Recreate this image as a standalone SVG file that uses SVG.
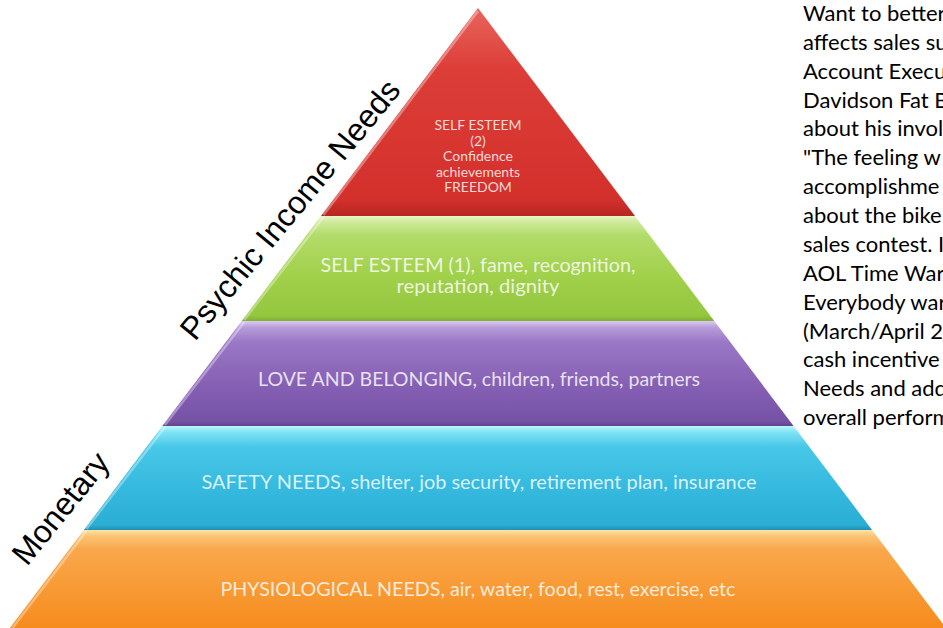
<svg xmlns="http://www.w3.org/2000/svg" width="943" height="628" viewBox="0 0 943 628">
  <defs>
    <linearGradient id="g-red" x1="0" y1="0" x2="0" y2="1">
      <stop offset="0" stop-color="#e8645c"/>
      <stop offset="0.3" stop-color="#dc3d37"/>
      <stop offset="0.92" stop-color="#d3302c"/>
      <stop offset="1" stop-color="#b82622"/>
    </linearGradient>
    <linearGradient id="g-green" x1="0" y1="0" x2="0" y2="1">
      <stop offset="0" stop-color="#e6f6c4"/>
      <stop offset="0.06" stop-color="#cfe99a"/>
      <stop offset="0.18" stop-color="#b2dc6a"/>
      <stop offset="0.55" stop-color="#a2d14c"/>
      <stop offset="0.95" stop-color="#94c63e"/>
      <stop offset="1" stop-color="#7fae33"/>
    </linearGradient>
    <linearGradient id="g-purple" x1="0" y1="0" x2="0" y2="1">
      <stop offset="0" stop-color="#dccaf2"/>
      <stop offset="0.06" stop-color="#b79ddb"/>
      <stop offset="0.2" stop-color="#9a78c6"/>
      <stop offset="0.6" stop-color="#8660b4"/>
      <stop offset="0.95" stop-color="#7652a6"/>
      <stop offset="1" stop-color="#664491"/>
    </linearGradient>
    <linearGradient id="g-blue" x1="0" y1="0" x2="0" y2="1">
      <stop offset="0" stop-color="#b8f7fd"/>
      <stop offset="0.06" stop-color="#7fe2f5"/>
      <stop offset="0.2" stop-color="#48c8e8"/>
      <stop offset="0.6" stop-color="#35b9de"/>
      <stop offset="0.95" stop-color="#2aaed4"/>
      <stop offset="1" stop-color="#2190b4"/>
    </linearGradient>
    <linearGradient id="g-orange" x1="0" y1="0" x2="0" y2="1">
      <stop offset="0" stop-color="#fde5a6"/>
      <stop offset="0.06" stop-color="#fbc475"/>
      <stop offset="0.2" stop-color="#f9a74c"/>
      <stop offset="0.6" stop-color="#f89a34"/>
      <stop offset="1" stop-color="#f68b1f"/>
    </linearGradient>
  </defs>
  <style>
    .lvl-text { font-family: Lato, "Liberation Sans", sans-serif; fill: #ffffff; fill-opacity: 0.82; text-anchor: middle; }
    .lvl-big { font-size: 19.5px; }
    .lvl-small { font-size: 14px; }
    .bevel { stroke: #ffffff; stroke-opacity: 0.35; stroke-width: 2.5; fill: none; }
    .side-label { font-family: "Liberation Sans", Arial, sans-serif; font-size: 32px; fill: #000000; }
    .note { font-family: Lato, "Liberation Sans", sans-serif; font-size: 22px; fill: #000000; }
  </style>

  <rect x="0" y="0" width="943" height="628" fill="#ffffff"/>

  <!-- pyramid levels, top to bottom; a soft light bevel runs down each left slope -->
  <g id="level-self-esteem-2">
    <polygon points="478,8 635,216 321,216" fill="url(#g-red)"/>
    <line class="bevel" x1="478" y1="11" x2="323.5" y2="215"/>
    <text class="lvl-text lvl-small" x="478" y="130">SELF ESTEEM</text>
    <text class="lvl-text lvl-small" x="478" y="145.5">(2)</text>
    <text class="lvl-text lvl-small" x="478" y="161">Confidence</text>
    <text class="lvl-text lvl-small" x="478" y="176.5">achievements</text>
    <text class="lvl-text lvl-small" x="478" y="192">FREEDOM</text>
  </g>

  <g id="level-self-esteem-1">
    <polygon points="321,216 635,216 714.3,321 241.7,321" fill="url(#g-green)"/>
    <line class="bevel" x1="323.5" y1="217" x2="244.2" y2="320"/>
    <text class="lvl-text lvl-big" x="478" y="272" textLength="315" lengthAdjust="spacingAndGlyphs">SELF ESTEEM (1), fame, recognition,</text>
    <text class="lvl-text lvl-big" x="478" y="293" textLength="163" lengthAdjust="spacingAndGlyphs">reputation, dignity</text>
  </g>

  <g id="level-love-belonging">
    <polygon points="241.7,321 714.3,321 793.6,426 162.4,426" fill="url(#g-purple)"/>
    <line class="bevel" x1="244.2" y1="322" x2="164.9" y2="425"/>
    <text class="lvl-text lvl-big" x="479" y="386" textLength="442" lengthAdjust="spacingAndGlyphs">LOVE AND BELONGING, children, friends, partners</text>
  </g>

  <g id="level-safety">
    <polygon points="162.4,426 793.6,426 872.1,530 83.9,530" fill="url(#g-blue)"/>
    <line class="bevel" x1="164.9" y1="427" x2="86.4" y2="529"/>
    <text class="lvl-text lvl-big" x="479" y="489" textLength="555" lengthAdjust="spacingAndGlyphs">SAFETY NEEDS, shelter, job security, retirement plan, insurance</text>
  </g>

  <g id="level-physiological">
    <polygon points="83.9,530 872.1,530 946.1,628 9.9,628" fill="url(#g-orange)"/>
    <line class="bevel" x1="86.4" y1="531" x2="12.4" y2="628"/>
    <text class="lvl-text lvl-big" x="478" y="596" textLength="515" lengthAdjust="spacingAndGlyphs">PHYSIOLOGICAL NEEDS, air, water, food, rest, exercise, etc</text>
  </g>

  <!-- labels along the left slope -->
  <g id="label-psychic">
    <text class="side-label" transform="translate(195,342) rotate(-50.5)">Psychic Income Needs</text>
  </g>
  <g id="label-monetary">
    <text class="side-label" transform="translate(27,567) rotate(-51)">Monetary</text>
  </g>

  <!-- side note, running off the right edge -->
  <g id="note">
    <text class="note" x="803" y="21">Want to better</text>
    <text class="note" x="803" y="49.9">affects sales su</text>
    <text class="note" x="803" y="78.7">Account Execu</text>
    <text class="note" x="803" y="107.6">Davidson Fat B</text>
    <text class="note" x="803" y="136.4">about his invol</text>
    <text class="note" x="803" y="165.3">"The feeling w</text>
    <text class="note" x="803" y="194.2">accomplishme</text>
    <text class="note" x="803" y="223">about the bike</text>
    <text class="note" x="803" y="251.9">sales contest. I</text>
    <text class="note" x="803" y="280.7">AOL Time War</text>
    <text class="note" x="803" y="309.6">Everybody war</text>
    <text class="note" x="803" y="338.5">(March/April 2</text>
    <text class="note" x="803" y="367.3">cash incentive</text>
    <text class="note" x="803" y="396.2">Needs and add</text>
    <text class="note" x="803" y="425">overall perform</text>
  </g>
</svg>
